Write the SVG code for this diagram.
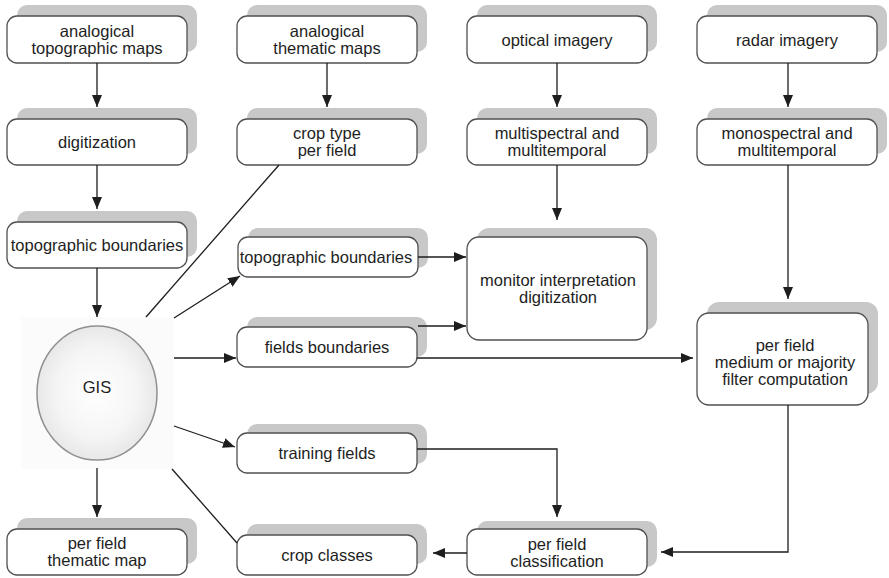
<svg xmlns="http://www.w3.org/2000/svg" width="889" height="578" viewBox="0 0 889 578">
  <style>
    .sh { fill: #c8c8c8; stroke: none; }
    .bx { fill: #ffffff; stroke: #505050; stroke-width: 1.3; }
    .t { font-family: "Liberation Sans", Arial, sans-serif; font-size: 16.5px; fill: #1e1e1e; text-anchor: middle; }
    .ln { fill: none; stroke: #1e1e1e; stroke-width: 1.3; }
    .ar { marker-end: url(#arrow); }
  </style>
  <defs>
    <marker id="arrow" viewBox="0 0 12 10" refX="12" refY="5" markerWidth="12" markerHeight="10" markerUnits="userSpaceOnUse" orient="auto">
      <path d="M0,0 L12,5 L0,10 Z" fill="#1e1e1e"/>
    </marker>
    <radialGradient id="gisFill" cx="0.5" cy="0.5" r="0.55">
      <stop offset="0" stop-color="#ffffff"/>
      <stop offset="0.6" stop-color="#f5f5f5"/>
      <stop offset="1" stop-color="#e4e4e4"/>
    </radialGradient>
  </defs>
  <rect width="889" height="578" fill="#ffffff"/>

  <!-- column 1 -->
  <g id="analogical-topographic-maps">
    <rect class="sh" x="17" y="5" width="180" height="47" rx="10"/>
    <rect class="bx" x="7" y="16" width="180" height="47" rx="10"/>
    <text class="t" x="97" y="36.5">analogical</text>
    <text class="t" x="97" y="53.5">topographic maps</text>
  </g>
  <g id="digitization">
    <rect class="sh" x="17" y="108" width="180" height="46" rx="10"/>
    <rect class="bx" x="7" y="119" width="180" height="46" rx="10"/>
    <text class="t" x="97" y="148">digitization</text>
  </g>
  <g id="topographic-boundaries-1">
    <rect class="sh" x="17" y="211" width="180" height="46" rx="10"/>
    <rect class="bx" x="7" y="222" width="180" height="46" rx="10"/>
    <text class="t" x="97" y="251">topographic boundaries</text>
  </g>
  <g id="gis">
    <rect x="21" y="317" width="153" height="152" fill="#fbfbfb"/>
    <ellipse cx="97" cy="393" rx="60" ry="67" fill="url(#gisFill)" stroke="#909090" stroke-width="1.5"/>
    <text class="t" x="97" y="393">GIS</text>
  </g>
  <g id="per-field-thematic-map">
    <rect class="sh" x="17" y="518" width="180" height="46" rx="10"/>
    <rect class="bx" x="7" y="529" width="180" height="46" rx="10"/>
    <text class="t" x="97" y="548.5">per field</text>
    <text class="t" x="97" y="565.5">thematic map</text>
  </g>

  <!-- column 2 -->
  <g id="analogical-thematic-maps">
    <rect class="sh" x="247" y="5" width="180" height="47" rx="10"/>
    <rect class="bx" x="237" y="16" width="180" height="47" rx="10"/>
    <text class="t" x="327" y="36.5">analogical</text>
    <text class="t" x="327" y="53.5">thematic maps</text>
  </g>
  <g id="crop-type-per-field">
    <rect class="sh" x="247" y="108" width="180" height="46" rx="10"/>
    <rect class="bx" x="237" y="119" width="180" height="46" rx="10"/>
    <text class="t" x="327" y="139">crop type</text>
    <text class="t" x="327" y="156">per field</text>
  </g>
  <g id="topographic-boundaries-2">
    <rect class="sh" x="248" y="228" width="180" height="40" rx="10"/>
    <rect class="bx" x="238" y="237" width="180" height="40" rx="10"/>
    <text class="t" x="326" y="263">topographic boundaries</text>
  </g>
  <g id="fields-boundaries">
    <rect class="sh" x="247" y="317" width="180" height="40" rx="10"/>
    <rect class="bx" x="237" y="327" width="180" height="40" rx="10"/>
    <text class="t" x="327" y="353">fields boundaries</text>
  </g>
  <g id="training-fields">
    <rect class="sh" x="247" y="424" width="180" height="40" rx="10"/>
    <rect class="bx" x="237" y="433" width="180" height="40" rx="10"/>
    <text class="t" x="327" y="459">training fields</text>
  </g>
  <g id="crop-classes">
    <rect class="sh" x="247" y="524" width="180" height="40" rx="10"/>
    <rect class="bx" x="237" y="535" width="180" height="40" rx="10"/>
    <text class="t" x="327" y="561">crop classes</text>
  </g>

  <!-- column 3 -->
  <g id="optical-imagery">
    <rect class="sh" x="477" y="5" width="180" height="47" rx="10"/>
    <rect class="bx" x="467" y="16" width="180" height="47" rx="10"/>
    <text class="t" x="557" y="45.5">optical imagery</text>
  </g>
  <g id="multispectral-multitemporal">
    <rect class="sh" x="477" y="108" width="180" height="46" rx="10"/>
    <rect class="bx" x="467" y="119" width="180" height="46" rx="10"/>
    <text class="t" x="557" y="139">multispectral and</text>
    <text class="t" x="557" y="156">multitemporal</text>
  </g>
  <g id="monitor-interpretation">
    <rect class="sh" x="477" y="228" width="180" height="102" rx="12"/>
    <rect class="bx" x="467" y="237" width="180" height="103" rx="12"/>
    <text class="t" x="558" y="286">monitor interpretation</text>
    <text class="t" x="558" y="303">digitization</text>
  </g>
  <g id="per-field-classification">
    <rect class="sh" x="477" y="521" width="180" height="46" rx="10"/>
    <rect class="bx" x="467" y="529" width="180" height="46" rx="10"/>
    <text class="t" x="557" y="549.5">per field</text>
    <text class="t" x="557" y="566.5">classification</text>
  </g>

  <!-- column 4 -->
  <g id="radar-imagery">
    <rect class="sh" x="707" y="5" width="180" height="47" rx="10"/>
    <rect class="bx" x="697" y="16" width="180" height="47" rx="10"/>
    <text class="t" x="787" y="45.5">radar imagery</text>
  </g>
  <g id="monospectral-multitemporal">
    <rect class="sh" x="707" y="108" width="180" height="46" rx="10"/>
    <rect class="bx" x="697" y="119" width="180" height="46" rx="10"/>
    <text class="t" x="787" y="139">monospectral and</text>
    <text class="t" x="787" y="156">multitemporal</text>
  </g>
  <g id="per-field-filter">
    <rect class="sh" x="707" y="302" width="171" height="92" rx="12"/>
    <rect class="bx" x="697" y="313" width="171" height="92" rx="12"/>
    <text class="t" x="785" y="351">per field</text>
    <text class="t" x="785" y="368">medium or majority</text>
    <text class="t" x="785" y="385">filter computation</text>
  </g>

  <!-- connectors -->
  <g id="connectors">
    <line class="ln ar" x1="97" y1="63" x2="97" y2="107"/>
    <line class="ln ar" x1="97" y1="165" x2="97" y2="209"/>
    <line class="ln ar" x1="97" y1="268" x2="97" y2="317"/>
    <line class="ln ar" x1="97" y1="468" x2="97" y2="517"/>
    <line class="ln ar" x1="327" y1="63" x2="327" y2="107"/>
    <line class="ln ar" x1="557" y1="63" x2="557" y2="107"/>
    <line class="ln ar" x1="557" y1="165" x2="557" y2="220"/>
    <line class="ln ar" x1="788" y1="63" x2="788" y2="107"/>
    <line class="ln ar" x1="788" y1="165" x2="788" y2="299"/>
    <line class="ln ar" x1="418" y1="257" x2="466" y2="257"/>
    <line class="ln ar" x1="418" y1="326" x2="466" y2="326"/>
    <line class="ln ar" x1="417" y1="358" x2="693" y2="358"/>
    <polyline class="ln ar" points="788,405 788,552 661,552"/>
    <polyline class="ln ar" points="417,449 557,449 557,517"/>
    <line class="ln ar" x1="467" y1="553" x2="433" y2="553"/>
    <line class="ln" x1="146" y1="317" x2="279" y2="165"/>
    <line class="ln ar" x1="174" y1="318" x2="240" y2="276"/>
    <line class="ln ar" x1="174" y1="358" x2="236" y2="358"/>
    <line class="ln ar" x1="174" y1="426" x2="235" y2="447"/>
    <line class="ln" x1="172" y1="469" x2="237" y2="543"/>
  </g>
</svg>
